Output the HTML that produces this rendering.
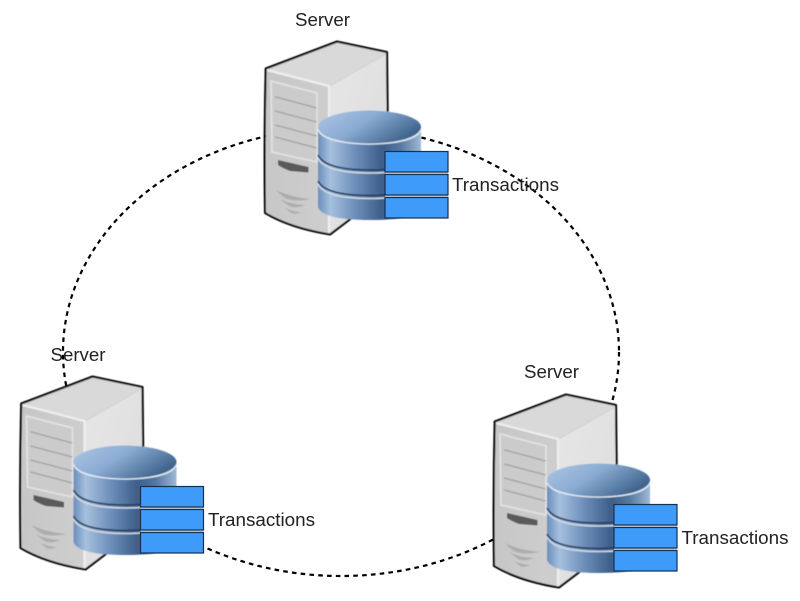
<!DOCTYPE html>
<html><head><meta charset="utf-8">
<style>
html,body{margin:0;padding:0;background:#fff;width:800px;height:601px;overflow:hidden}
svg{display:block}
text{font-family:"Liberation Sans",sans-serif;font-size:18px;fill:#222}
</style></head>
<body>
<svg width="800" height="601" viewBox="0 0 800 601" xmlns="http://www.w3.org/2000/svg">
<defs>
<filter id="soft" x="-5%" y="-5%" width="110%" height="110%"><feGaussianBlur stdDeviation="0.4"/></filter>
<linearGradient id="front" x1="0" y1="0" x2="1" y2="0.1"><stop offset="0" stop-color="#c6c6c6"/><stop offset="1" stop-color="#d4d4d4"/></linearGradient>
<linearGradient id="side" x1="0" y1="0" x2="1" y2="1"><stop offset="0" stop-color="#e6e6e6"/><stop offset="1" stop-color="#dcdcdc"/></linearGradient>
<linearGradient id="cyl" x1="0" y1="0" x2="1" y2="0"><stop offset="0" stop-color="#6a8fbd"/><stop offset="0.12" stop-color="#a6c0de"/><stop offset="0.35" stop-color="#6f91bc"/><stop offset="0.62" stop-color="#3e5e8a"/><stop offset="0.8" stop-color="#55789f"/><stop offset="1" stop-color="#a0b9d5"/></linearGradient>
<linearGradient id="lid" x1="0" y1="0" x2="1" y2="0.5"><stop offset="0" stop-color="#aec7e5"/><stop offset="0.5" stop-color="#8aabd2"/><stop offset="1" stop-color="#41668f"/></linearGradient>
<g id="node">
<g filter="url(#soft)">
<path d="M265.7 68.500L337 41.500L387 52L388.500 190L330 234.500Q290 228 266 212Z" fill="url(#front)"/>
<path d="M329 87L387 54L388 190L330 234Z" fill="url(#side)"/>
<path d="M267 70L337 44L386 53L329 86Z" fill="#d9d9d9"/>
<path d="M267 70L329 86L329 234" fill="none" stroke="#eeeeee" stroke-width="2.200"/>
<path d="M265.700 68.500L337 41.500L387 52L388.500 190L330 234.500Q290 228 265 213Q264 140 265.700 68.500Z" fill="none" stroke="#000" stroke-width="2.100" stroke-linejoin="round"/>
<path d="M271 81L317 93V162L272 152Z" fill="#cbcbcb" stroke="#e2e2e2" stroke-width="1.800"/>
<g stroke="#a0a0a0" stroke-width="1.300" fill="none">
<path d="M275 96.700L316.700 108"/><path d="M275 111L316.700 122"/><path d="M275 125L316.700 136"/><path d="M275 137L316.700 148"/>
</g>
<path d="M278 160L308.500 167V172.500L290 171Q282 168 278 165Z" fill="#5a5a5a"/>
<path d="M276 190Q290 197 311 199Q296 202 287 199Q280 195 276 190ZM280 199Q292 205 305 205Q295 209 289 206ZM285 208Q294 212 301 212Q295 215 291 213Z" fill="#adadad"/>
<path d="M318 128V207Q322 220 370 220Q421 220 421 207V128Z" fill="url(#cyl)"/>
<path d="M318 155Q325 170 370 170Q412 170 421 155" fill="none" stroke="#253f5e" stroke-width="1.700"/>
<path d="M318 158Q325 173 370 173Q412 173 421 158" fill="none" stroke="#cfd8e2" stroke-width="1.600"/>
<path d="M318 181Q325 195.500 370 195.500Q412 195.500 421 181" fill="none" stroke="#253f5e" stroke-width="1.700"/>
<path d="M318 184Q325 198.500 370 198.500Q412 198.500 421 184" fill="none" stroke="#cfd8e2" stroke-width="1.600"/>
<path d="M318 129Q322 143 370 144Q417 143 421 129" fill="none" stroke="#e2e9f1" stroke-width="1.600"/>
<ellipse cx="369.500" cy="127" rx="51.500" ry="16.500" fill="url(#lid)"/>
</g>
<path d="M385 173H448M385 196H448" stroke="#c9ccd0" stroke-width="2.400"/>
<rect x="385" y="151.500" width="63" height="20.500" fill="#3f9bfa" stroke="#16304f" stroke-width="1.200"/>
<rect x="385" y="174.500" width="63" height="20.500" fill="#3f9bfa" stroke="#16304f" stroke-width="1.200"/>
<rect x="385" y="197.500" width="63" height="20.500" fill="#3f9bfa" stroke="#16304f" stroke-width="1.200"/>
</g>
</defs>
<rect width="800" height="601" fill="#fff"/>
<ellipse cx="341" cy="352" rx="278" ry="224" fill="none" stroke="#000" stroke-width="2.200" stroke-dasharray="4.600 4.200"/>
<use href="#node"/>
<use href="#node" transform="translate(-244.500 335)"/>
<use href="#node" transform="translate(229 353)"/>
<text x="295" y="26" textLength="55" lengthAdjust="spacingAndGlyphs">Server</text>
<text x="452" y="191" textLength="107" lengthAdjust="spacingAndGlyphs">Transactions</text>
<text x="50.500" y="361" textLength="55" lengthAdjust="spacingAndGlyphs">Server</text>
<text x="208" y="526" textLength="107" lengthAdjust="spacingAndGlyphs">Transactions</text>
<text x="524" y="378" textLength="55" lengthAdjust="spacingAndGlyphs">Server</text>
<text x="681.500" y="544" textLength="107" lengthAdjust="spacingAndGlyphs">Transactions</text>
</svg>
</body></html>
